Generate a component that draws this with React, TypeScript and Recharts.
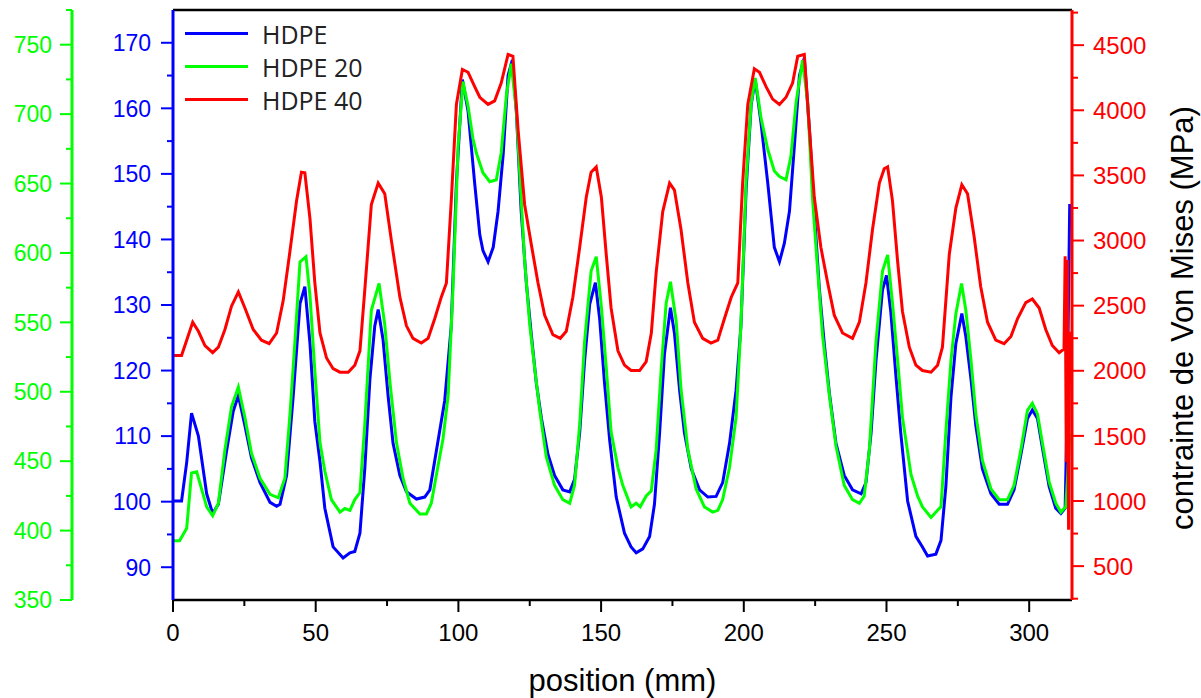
import { LineChart, Line, XAxis, YAxis, Legend, ReferenceLine } from 'recharts'

// HDPE (blue, left inner axis)
const POS_HDPE = [
  0, 3, 4.8, 6.5, 8.9, 11.8, 13.9, 15.9, 18.8, 21.1, 22.9, 25.2, 27.5, 30.5, 34, 36.3, 37.5, 39.8, 42.1, 44.5,
  46.2, 48, 49.7, 51.5, 53.2, 56.1, 59.6, 62, 63.7, 65.5, 67.2, 69, 70.7, 71.9, 73.6, 75.4, 77.1, 79.5, 81.8, 85.3,
  88.2, 90, 92.3, 95.2, 97.5, 99.3, 101.4, 103.4, 105.7, 107.5, 108.6, 110.4, 112.2, 113.9, 115.7, 117.4, 118.9, 120.3, 122, 123.8,
  125.5, 127.3, 129.1, 131.4, 133.7, 136.6, 139, 140.7, 142.5, 144.2, 146, 148, 149.5, 151.2, 153, 155.3, 158.2, 160.5, 162.3, 164.6,
  167, 168.7, 170.5, 172.2, 174.3, 175.7, 177.5, 179.2, 181.6, 184.5, 187.4, 190.3, 192.6, 195, 197.3, 199, 200.8, 202.6, 204, 206,
  208.4, 210.7, 212.5, 214.2, 216, 217.7, 219.5, 221.2, 223, 224.7, 226.5, 228.2, 230, 232.3, 235.2, 238.1, 241.1, 242.8, 244.6, 246.3,
  248.6, 250, 251.5, 253.3, 255, 257.4, 260.3, 262.6, 264.4, 267.3, 269.1, 270.8, 272.6, 274.3, 276.4, 277.8, 279.6, 281.3, 283.6, 286.6,
  289.5, 292.4, 294.7, 297.1, 299.4, 301.1, 302.9, 304.6, 307, 309.3, 311.1, 312.6, 313.2, 313.6, 314.2,
]
const HDPE = [
  100.1, 100.1, 106, 113.5, 110.0, 101.2, 98.2, 99.6, 107.8, 113.8, 116.2, 111.6, 106.7, 102.9, 99.9, 99.3, 99.6, 104, 116, 130.2,
  132.8, 124.1, 112.2, 106.1, 99, 93.1, 91.4, 92.2, 92.4, 95.2, 105.0, 118.7, 126.8, 129.3, 124.7, 116, 108.9, 104, 101.5, 100.4,
  100.7, 101.8, 107.8, 115.4, 126.8, 148.6, 164.4, 159.5, 148.6, 140.7, 138.3, 136.6, 138.8, 144.3, 153.0, 165, 167.4, 159.5, 144.3, 133.4,
  125.7, 118.1, 112.7, 107.2, 104.0, 101.8, 101.5, 103.4, 110.5, 121.4, 130.1, 133.4, 127.9, 118.1, 109.4, 100.7, 95.2, 93.1, 92.2, 92.8,
  94.7, 99.6, 110.5, 122.5, 129.6, 125.7, 117, 110.5, 105, 101.8, 100.7, 100.8, 102.9, 108.9, 117, 126.8, 147.5, 160.6, 164.4, 157.9,
  148.6, 138.8, 136.6, 139.4, 144.3, 154.1, 165, 167.7, 156.8, 144.3, 132.3, 124.1, 116.5, 108.9, 104, 101.8, 101.2, 102.9, 110.5, 121.4,
  132.3, 134.5, 129, 119.2, 110.5, 100.1, 94.7, 93.1, 91.7, 92, 94.1, 102.3, 116, 124.1, 128.7, 125.2, 118.7, 111.6, 105, 101.2,
  99.6, 99.6, 101.8, 107.2, 112.7, 114.0, 112.7, 108.3, 102.3, 99.0, 98.2, 99, 112, 125, 145.4,
]

// HDPE 20 (green, left outer axis)
const POS_HDPE20 = [
  0, 2.3, 4.8, 6.5, 8.3, 10, 11.8, 13.9, 15.9, 18.2, 20.5, 22.9, 25.2, 27.5, 30.5, 34, 36.9, 39.2, 41, 42.7,
  44.5, 46.6, 48, 49.7, 51.5, 53.2, 55.5, 58.5, 60.2, 62, 63.7, 65.5, 67.2, 69.5, 72.2, 74.2, 76, 78.3, 80.6, 83,
  86.5, 88.8, 90.5, 92.3, 94.6, 96.4, 98.1, 99.9, 101.6, 103.4, 105.1, 106.3, 108.6, 111, 113.3, 115, 116.8, 118.5, 120.3, 122,
  123.2, 125, 126.7, 128.5, 130.8, 133.7, 136.6, 139, 140.7, 142.5, 144.2, 146.5, 148.3, 150.1, 151.8, 153.5, 155.9, 157.6, 160.5, 162.3,
  163.7, 165.8, 167.6, 169.3, 171.1, 172.8, 174.3, 176.3, 178, 180.4, 183.3, 186.2, 189.1, 190.9, 192.6, 195, 197.3, 199, 200.8, 202.6,
  204, 206, 208.4, 210.7, 212.5, 214.8, 216.5, 218.3, 220.6, 222.4, 224.1, 225.9, 227.6, 230, 232.3, 235.2, 238.1, 240.5, 242.2, 244,
  246.3, 248.6, 250.4, 252.1, 253.9, 255.6, 258.6, 260.9, 262.6, 265.6, 267.9, 269.1, 270.8, 272.6, 274.3, 276.3, 277.8, 279.6, 281.3, 283.6,
  286.6, 289.5, 292.4, 294.7, 297.1, 299.4, 301.1, 302.9, 304.6, 307, 309.3, 311.1, 312.8, 313.5, 314.2,
]
const HDPE20 = [
  392.7, 392.7, 401.7, 441.5, 442.3, 430, 417.1, 410.7, 419.7, 458.3, 489.2, 503.4, 481.5, 455.7, 437.7, 426.1, 423.6, 437.7, 484.1, 535.5,
  593.5, 597.3, 569, 515, 463.4, 442.9, 422.3, 413.3, 415.9, 414.6, 422.3, 427.4, 476.3, 558.7, 578, 548.4, 507.2, 463.4, 437.7, 419.7,
  412, 412, 419.7, 440.3, 466, 497, 574.1, 677.1, 723.4, 705.4, 682.2, 672, 657.8, 651.3, 652.7, 672, 713.2, 736.3, 702.9, 638.5,
  594.8, 548.4, 517.5, 486.6, 453.1, 432.6, 422.3, 419.7, 432.6, 476.3, 535.5, 587, 597.3, 561.2, 517.5, 471.2, 445.4, 432.6, 417.1, 419.7,
  417.1, 424.9, 428.7, 458.3, 517.5, 563.8, 579.3, 551, 502.1, 458.3, 430, 417.1, 413.3, 414.6, 422.3, 445.4, 481.5, 548.4, 651.3, 708,
  726, 697.7, 674.5, 659.1, 655, 652.7, 669.4, 708, 738.9, 708, 638.5, 587, 540.7, 497, 460.9, 432.6, 422.3, 419.7, 424.9, 458.3,
  535.5, 587, 598.6, 563.8, 522.7, 481.5, 440.3, 424.9, 417.1, 409.4, 414.6, 417.1, 471.2, 522.7, 556.1, 578, 558.7, 522.7, 484.1, 450.6,
  430, 422.3, 422.3, 432.6, 458.3, 486.6, 491.8, 484.1, 463.4, 435.1, 419.7, 413.3, 417.1, 440, 470,
]

// HDPE 40 (red, right axis)
const POS_HDPE40 = [
  0, 3, 4.8, 6.9, 8.9, 11.2, 13.9, 15.9, 18.2, 20.5, 22.9, 25.2, 28.1, 31, 33.7, 36.3, 38.6, 41, 43.3, 45,
  46.2, 48, 49.7, 51.5, 53.8, 56.1, 58.5, 61.4, 63.7, 65.5, 67.2, 69.5, 71.9, 74.2, 76.5, 79.5, 81.8, 84.1, 87, 89.4,
  91.7, 94, 95.8, 97.5, 99.3, 101.4, 103.4, 105.7, 107.5, 110.4, 112.7, 115, 117.4, 119.1, 120.9, 123.2, 125.5, 127.9, 130.2, 133.1,
  135.7, 137.8, 140.1, 142.5, 144.8, 146.5, 148.3, 150.1, 151.8, 153.5, 155.9, 158.2, 160.5, 163.5, 165.8, 167.6, 169.3, 171.6, 174, 175.7,
  178, 180.4, 182.7, 185.6, 188.5, 190.9, 193.2, 195.6, 197.9, 199.6, 201.4, 203.7, 205.5, 207.8, 210.1, 212.5, 214.8, 217.1, 218.9, 221.2,
  223, 224.7, 227, 229.4, 231.7, 234.6, 238.1, 240.5, 242.8, 245.1, 247.5, 249.2, 250.4, 252.1, 253.9, 255.6, 258, 260.3, 262.6, 265.6,
  267.9, 269.6, 272, 274.3, 276.4, 278.4, 280.7, 283, 285.4, 288.3, 291.2, 293.6, 295.9, 298.8, 301.1, 303.5, 305.8, 308.1, 310.5, 312.2,
  312.6, 313, 313.4, 313.8, 314.2, 314.6,
]
const HDPE40 = [
  2117, 2117, 2235, 2373, 2303, 2194, 2139, 2181, 2317, 2496, 2605, 2482, 2317, 2235, 2208, 2290, 2537, 2921, 3305, 3524,
  3520, 3167, 2674, 2290, 2098, 2016, 1989, 1989, 2043, 2153, 2619, 3277, 3441, 3359, 3003, 2565, 2345, 2249, 2213, 2249,
  2399, 2565, 2674, 3305, 4045, 4313, 4292, 4182, 4100, 4045, 4072, 4209, 4429, 4415, 3853, 3277, 2975, 2674, 2427, 2277,
  2249, 2303, 2565, 2948, 3332, 3524, 3565, 3332, 2893, 2482, 2153, 2043, 2002, 2002, 2071, 2290, 2756, 3222, 3441, 3387,
  3085, 2674, 2373, 2249, 2213, 2235, 2399, 2565, 2674, 3441, 4045, 4319, 4292, 4182, 4086, 4045, 4100, 4209, 4415, 4429,
  3853, 3332, 2948, 2674, 2427, 2290, 2249, 2373, 2674, 3085, 3441, 3551, 3565, 3305, 2839, 2455, 2181, 2043, 2002, 1989,
  2043, 2181, 2893, 3249, 3428, 3359, 3031, 2647, 2373, 2235, 2208, 2263, 2399, 2523, 2551, 2482, 2317, 2194, 2139, 2167,
  2880, 1300, 2850, 780, 2300, 1900,
]

const X_TICKS = [0, 25, 50, 75, 100, 125, 150, 175, 200, 225, 250, 275, 300]
const BLUE_TICKS = [90, 95, 100, 105, 110, 115, 120, 125, 130, 135, 140, 145, 150, 155, 160, 165, 170]
const GREEN_TICKS = [350, 375, 400, 425, 450, 475, 500, 525, 550, 575, 600, 625, 650, 675, 700, 725, 750, 775]
const RED_TICKS = [250, 500, 750, 1000, 1250, 1500, 1750, 2000, 2250, 2500, 2750, 3000, 3250, 3500, 3750, 4000, 4250, 4500, 4750]

const FONT = '"Liberation Sans", Arial, sans-serif'
const TICK = 12

const rows = (xs: number[], ys: number[]) => xs.map((x, i) => ({ x, v: ys[i] }))

function makeTick(side: 'left' | 'right' | 'bottom', color: string, major: number, gap: number, fontSize = 23) {
  return (props: any) => {
    const { x, y, payload } = props
    const v = payload.value
    const isMajor = Math.abs(v / major - Math.round(v / major)) < 1e-6
    const len = isMajor ? TICK : TICK / 2
    const txt = { fill: color, fontFamily: FONT, fontSize }
    if (side === 'left') {
      const ax = x + TICK
      return (
        <g>
          <line x1={ax} x2={ax - len} y1={y} y2={y} stroke={color} strokeWidth={2} />
          {isMajor && <text x={ax - TICK - gap} y={y} dy="0.36em" textAnchor="end" {...txt}>{v}</text>}
        </g>
      )
    }
    if (side === 'right') {
      const ax = x - TICK
      return (
        <g>
          <line x1={ax} x2={ax + len} y1={y} y2={y} stroke={color} strokeWidth={2} />
          {isMajor && <text x={ax + TICK + gap} y={y} dy="0.36em" textAnchor="start" {...txt}>{v}</text>}
        </g>
      )
    }
    const ay = y - TICK
    return (
      <g>
        <line x1={x} x2={x} y1={ay} y2={ay + len} stroke={color} strokeWidth={2} />
        {isMajor && <text x={x} y={ay + TICK + gap} dy="0.72em" textAnchor="middle" {...txt}>{v}</text>}
      </g>
    )
  }
}

function LegendBox(props: any) {
  const { payload = [] } = props
  return (
    <div style={{ fontFamily: '"Open Sans", "Noto Sans", sans-serif', fontSize: 25, color: '#222' }}>
      {payload.map((p: any) => (
        <div key={p.value} style={{ display: 'flex', alignItems: 'center', height: 33 }}>
          <div style={{ width: 63, height: 3, background: p.color, marginRight: 14 }} />
          <span>{p.value}</span>
        </div>
      ))}
    </div>
  )
}

function RedTitle(props: any) {
  const { viewBox } = props
  const cx = viewBox.x + 110
  const cy = viewBox.y + viewBox.height / 2 + 13
  return (
    <text
      x={cx}
      y={cy}
      transform={`rotate(-90 ${cx} ${cy})`}
      textAnchor="middle"
      dominantBaseline="central"
      fill="#000"
      fontFamily={FONT}
      fontSize={31}
    >
      contrainte de Von Mises (MPa)
    </text>
  )
}

export default function App() {
  return (
    <div style={{ position: 'absolute', left: 0, top: 0, width: 1201, height: 698, background: '#fff' }}>
      <LineChart width={1201} height={698} margin={{ top: 10, right: 0, bottom: 0, left: 0 }}>
        <XAxis
          dataKey="x"
          type="number"
          domain={[0, 315]}
          ticks={X_TICKS}
          interval={0}
          height={98}
          tickSize={TICK}
          tickMargin={0}
          tickLine={false}
          axisLine={{ stroke: '#000', strokeWidth: 2.5 }}
          tick={makeTick('bottom', '#000', 50, 12, 24)}
          label={{ value: 'position (mm)', position: 'insideBottom', offset: 7, fill: '#000', fontSize: 31, fontFamily: FONT }}
        />
        <YAxis
          yAxisId="blue"
          orientation="left"
          width={101}
          domain={[85, 175]}
          ticks={BLUE_TICKS}
          interval={0}
          tickSize={TICK}
          tickMargin={0}
          tickLine={false}
          axisLine={{ stroke: '#0000ff', strokeWidth: 3 }}
          tick={makeTick('left', '#0000ff', 10, 10)}
        />
        <YAxis
          yAxisId="green"
          orientation="left"
          width={72}
          domain={[350, 775]}
          ticks={GREEN_TICKS}
          interval={0}
          tickSize={TICK}
          tickMargin={0}
          tickLine={false}
          axisLine={{ stroke: '#00ff00', strokeWidth: 3 }}
          tick={makeTick('left', '#00ff00', 50, 8)}
        />
        <YAxis
          yAxisId="red"
          orientation="right"
          width={129}
          domain={[240, 4770]}
          ticks={RED_TICKS}
          interval={0}
          tickSize={TICK}
          tickMargin={0}
          tickLine={false}
          axisLine={{ stroke: '#ff0000', strokeWidth: 3 }}
          tick={makeTick('right', '#ff0000', 500, 9, 24)}
          label={{ content: RedTitle }}
        />
        <ReferenceLine yAxisId="blue" y={175} stroke="#000" strokeWidth={2.5} />
        <Legend
          layout="horizontal"
          verticalAlign="middle"
          align="center"
          content={LegendBox}
          wrapperStyle={{ position: 'absolute', left: 185, top: 17, width: 'auto', height: 'auto' }}
        />
        <Line
          name="HDPE"
          data={rows(POS_HDPE, HDPE)}
          dataKey="v"
          yAxisId="blue"
          type="linear"
          stroke="#0000ff"
          strokeWidth={3}
          dot={false}
          isAnimationActive={false}
        />
        <Line
          name="HDPE 20"
          data={rows(POS_HDPE20, HDPE20)}
          dataKey="v"
          yAxisId="green"
          type="linear"
          stroke="#00ff00"
          strokeWidth={3}
          dot={false}
          isAnimationActive={false}
        />
        <Line
          name="HDPE 40"
          data={rows(POS_HDPE40, HDPE40)}
          dataKey="v"
          yAxisId="red"
          type="linear"
          stroke="#ff0000"
          strokeWidth={3}
          dot={false}
          isAnimationActive={false}
        />
      </LineChart>
    </div>
  )
}
